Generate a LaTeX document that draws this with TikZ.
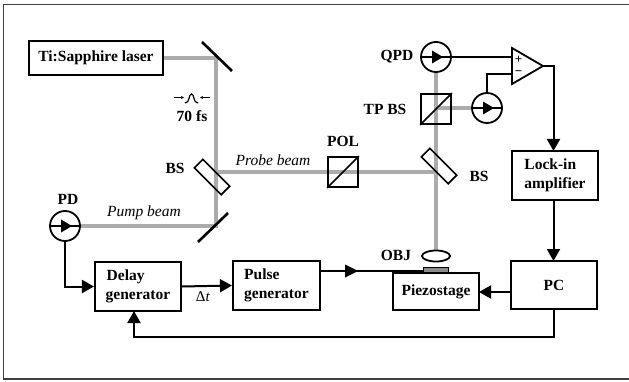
\documentclass[tikz,border=0pt]{standalone}
\usepackage{fontspec}
\setmainfont{Liberation Serif}
\usetikzlibrary{arrows.meta,calc,shapes.geometric}
\definecolor{beamc}{HTML}{ABABAB}
\tikzset{
  x=1pt,y=-1pt,
  beam/.style={draw=beamc,line width=3.6pt},
  wire/.style={draw=black,line width=2pt},
  headed/.style={wire,-{Triangle[length=12pt,width=13pt]}},
  blk/.style={draw=black,line width=2.1pt,fill=white,inner sep=0pt,align=left,font=\fontsize{15.5}{19.5}\selectfont\bfseries},
  det/.style={circle,draw=black,line width=1.8pt,minimum size=30pt,inner sep=0pt},
  cube/.style={draw=black,line width=1.8pt,minimum size=30pt,inner sep=0pt},
  bsplate/.style={draw=black,line width=1.6pt,minimum width=38pt,minimum height=12pt,inner sep=0pt,rotate=-45},
  mirror/.style={draw=black,line width=2.6pt},
  lab/.style={inner sep=0pt,font=\fontsize{15.5}{18}\selectfont\bfseries},
  ital/.style={inner sep=0pt,font=\fontsize{15.5}{18}\selectfont\itshape},
}
\begin{document}
\begin{tikzpicture}
\useasboundingbox (0,0) rectangle (629,382);
\draw[draw=black!75,line width=1.4pt] (629,4.5) -- (3.5,4.5) -- (3.5,379) -- (629,379);
% anchors
\coordinate (m1) at (216,58);
\coordinate (m2) at (216,226);
\coordinate (bs1) at (212,177);
\coordinate (bs1b) at (216,172);
\coordinate (bs2) at (436,172);
% nodes placed for beams
\node[blk,minimum width=134pt,minimum height=34pt] (laser) at (96,58) {Ti:Sapphire laser};
\node[det] (pd) at (65,226) {};
\node[det] (qpd) at (436,57) {};
\node[det] (rpd) at (487,108) {};
\coordinate (lens) at (436,256);
% beams
\draw[beam] (laser.east) -- (m1) -- (m2) -- (pd.east);
\draw[beam] (bs1b) -- (bs2);
\draw[beam] (qpd.south) -- (lens);
\draw[beam] (436,108) -- (rpd.west);
% optics
\draw[mirror] (202,42) -- (232,71);
\draw[mirror] (198,242) -- (228,213);
\node[bsplate] (bsa) at (bs1) {};
\node[bsplate] (bsb) at (439,166) {};
\node[cube] (pol) at (343,172) {};
\draw[draw=black,line width=1.6pt] (pol.south west) -- (pol.north east);
\node[cube] (tpbs) at (436,109) {};
\draw[draw=black,line width=1.6pt] (tpbs.south west) -- (tpbs.north east);
% objective + stage
\node[draw=black,line width=1.8pt,ellipse,fill=white,minimum width=28pt,minimum height=11pt,inner sep=0pt] (obj) at (lens) {};
\node[blk,minimum width=86pt,minimum height=37pt] (piezo) at (436,291.5) {Piezostage};
\node[draw=black,line width=.8pt,fill=black!45,minimum width=25pt,minimum height=5pt,inner sep=0pt] (samp) at (435.5,269.5) {};
% blocks
\node[blk,minimum width=86pt,minimum height=49pt] (delay) at (138,286.5) {\hspace*{1pt}Delay\\generator};
\node[blk,minimum width=87pt,minimum height=49pt] (pulse) at (276.5,285.5) {Pulse\\generator};
\node[blk,minimum width=86pt,minimum height=48pt] (pc) at (554,285) {PC};
\node[blk,minimum width=86pt,minimum height=49pt] (lock) at (555,175.5) {Lock-in\\amplifier};
% amplifier
\coordinate (ampa) at (512,48);
\coordinate (ampb) at (512,84);
\coordinate (ampout) at (543,66);
\draw[draw=black,line width=1.8pt,fill=white] (ampa) -- (ampout) -- (ampb) -- cycle;
\node[inner sep=0pt,font=\fontsize{13}{13}\selectfont\bfseries] (plus) at (518.5,60) {+};
\node[inner sep=0pt,font=\fontsize{13}{13}\selectfont\bfseries] (minus) at (518.5,73) {−};
% detector symbols
\foreach \d in {pd,qpd,rpd}{
  \draw[draw=black,line width=1.8pt] (\d.west) -- (\d.east);
  \fill[black] ($(\d)+(-4,-6.5)$) -- ($(\d)+(7,0)$) -- ($(\d)+(-4,6.5)$) -- cycle;
}
% connector ends
\coordinate (lockin) at (553.5,151);
\coordinate (lockout) at (553.5,200);
\coordinate (pcin) at (553.5,261);
\coordinate (pcout) at (553.5,309);
\coordinate (pcl) at (511,292);
\coordinate (pzr) at (479,292);
\coordinate (pulr) at (320,271);
\coordinate (sampl) at (423,271);
\coordinate (delb) at (134,311);
\coordinate (ampm) at (512,74.5);
\coordinate (ampp) at (512,57);
% electrical connectors
\draw[wire] (qpd.east) -- (ampp);
\draw[wire] (rpd.north) |- (ampm);
\draw[headed] (ampout) -| (lockin);
\draw[headed] (lockout) -- (pcin);
\draw[headed] (pcl) -- (pzr);
\draw[headed] (pd.south) |- (delay.west);
\draw[headed] (delay.east) -- (pulse.west);
\draw[wire] (pulr) -- (sampl);
\fill[black] (345,264.5) -- (358,271) -- (345,277.5) -- cycle;
\draw[headed] (pcout) -- (553.5,337) -- (134,337) -- (delb);
% pulse icon
\draw[draw=black,line width=.9pt,-{Stealth[length=3pt,width=3pt]}] (174,97.5) -- (184,97.5);
\draw[draw=black,line width=.9pt,-{Stealth[length=3pt,width=3pt]}] (210,97.5) -- (200,97.5);
\draw[draw=black,line width=1.2pt] (185,103) .. controls (190,103) and (188.5,94) .. (191.5,94) .. controls (194.5,94) and (193,103) .. (198,103);
% labels
\node[lab] (t70) at (192,116) {70 fs};
\node[lab] (tbs1) at (175,168) {BS};
\node[lab] (tpd) at (68,199) {PD};
\node[lab] (tqpd) at (397,57) {QPD};
\node[lab] (ttp) at (385,109) {TP BS};
\node[lab] (tpol) at (343,141) {POL};
\node[lab] (tbs2) at (479,176) {BS};
\node[lab] (tobj) at (396,255) {OBJ};
\node[ital] (tprobe) at (273,160) {Probe beam};
\node[ital] (tpump) at (144,213) {Pump beam};
\node[inner sep=0pt,font=\fontsize{15}{16}\selectfont] (tdt) at (203,297) {Δ\textit{t}};
\end{tikzpicture}
\end{document}
